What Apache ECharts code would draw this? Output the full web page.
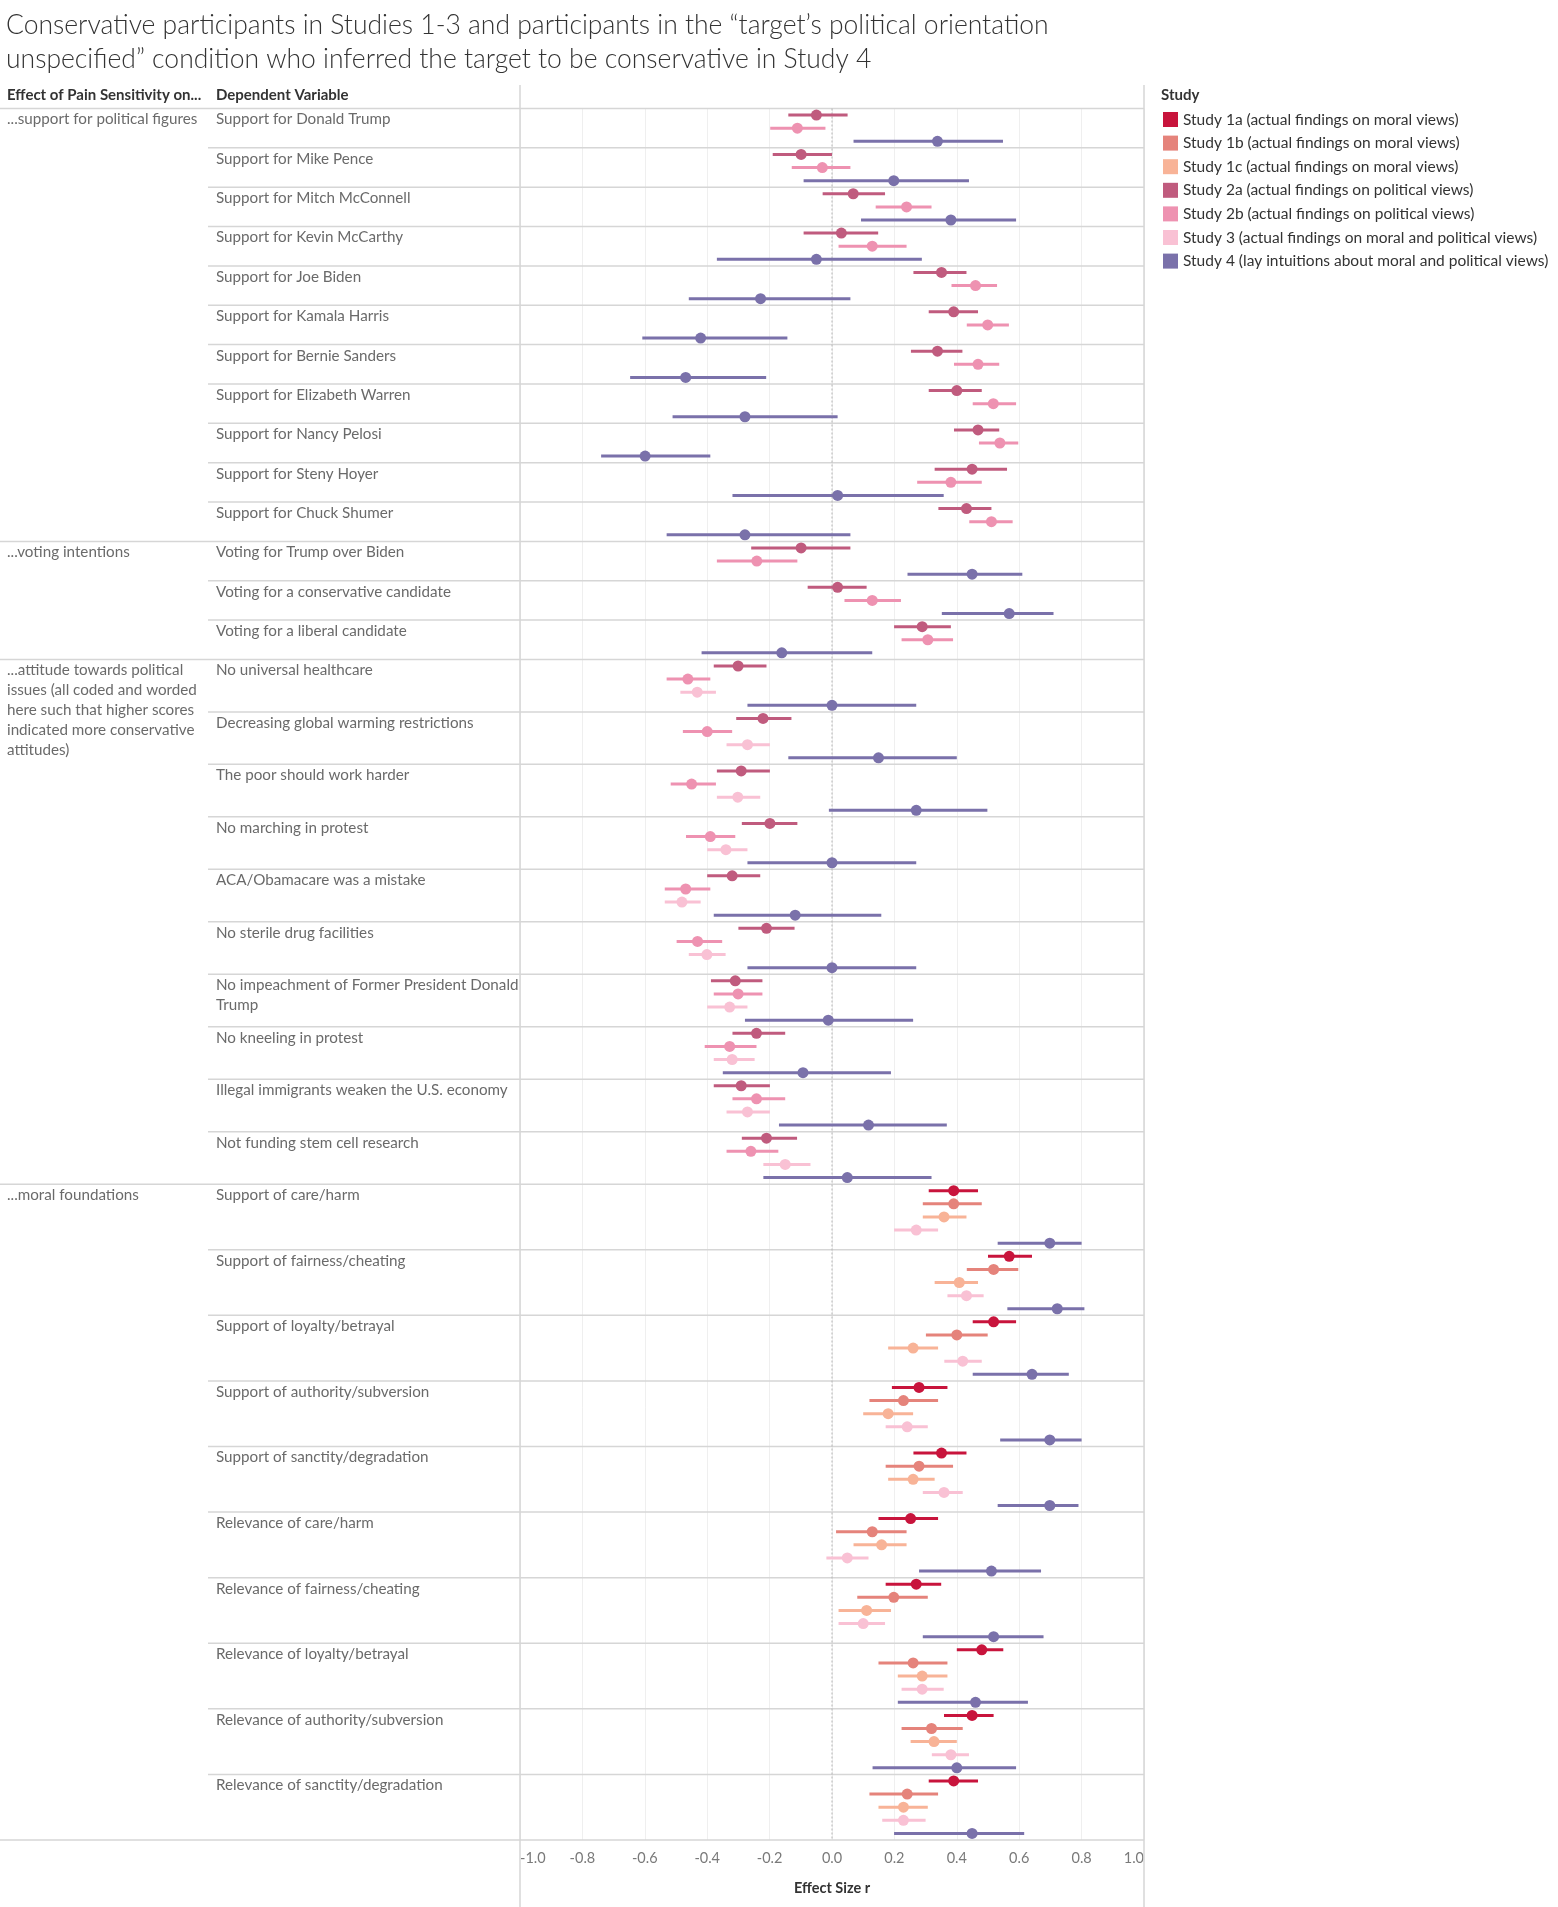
<!DOCTYPE html>
<html><head><meta charset="utf-8">
<script src="https://cdn.jsdelivr.net/npm/echarts@6/dist/echarts.min.js"></script>
<style>html,body{margin:0;padding:0;background:#fff}#c{width:1558px;height:1907px}</style>
</head><body><div id="c"></div>
<script>
const titleLines = ['Conservative participants in Studies 1-3 and participants in the \u201ctarget\u2019s political orientation', 'unspecified\u201d condition who inferred the target to be conservative in Study 4'];
const headerLabels = ['Effect of Pain Sensitivity on...', 'Dependent Variable'];
const axisTitle = 'Effect Size r';
const legendTitle = 'Study';
const studyKeys = ['1a','1b','1c','2a','2b','3','4'];
const studyNames = [
  'Study 1a (actual findings on moral views)',
  'Study 1b (actual findings on moral views)',
  'Study 1c (actual findings on moral views)',
  'Study 2a (actual findings on political views)',
  'Study 2b (actual findings on political views)',
  'Study 3 (actual findings on moral and political views)',
  'Study 4 (lay intuitions about moral and political views)'
];
const groupLabels = [
  '...support for political figures',
  '...voting intentions',
  '...attitude towards political\nissues (all coded and worded\nhere such that higher scores\nindicated more conservative\nattitudes)',
  '...moral foundations'
];
const groupStudies = [['2a','2b','4'],['2a','2b','4'],['2a','2b','3','4'],['1a','1b','1c','3','4']];
const rowLabels = [
  'Support for Donald Trump','Support for Mike Pence','Support for Mitch McConnell','Support for Kevin McCarthy',
  'Support for Joe Biden','Support for Kamala Harris','Support for Bernie Sanders','Support for Elizabeth Warren',
  'Support for Nancy Pelosi','Support for Steny Hoyer','Support for Chuck Shumer',
  'Voting for Trump over Biden','Voting for a conservative candidate','Voting for a liberal candidate',
  'No universal healthcare','Decreasing global warming restrictions','The poor should work harder','No marching in protest',
  'ACA/Obamacare was a mistake','No sterile drug facilities','No impeachment of Former President Donald\nTrump',
  'No kneeling in protest','Illegal immigrants weaken the U.S. economy','Not funding stem cell research',
  'Support of care/harm','Support of fairness/cheating','Support of loyalty/betrayal','Support of authority/subversion',
  'Support of sanctity/degradation','Relevance of care/harm','Relevance of fairness/cheating','Relevance of loyalty/betrayal',
  'Relevance of authority/subversion','Relevance of sanctity/degradation'
];
const rowGroup = [0,0,0,0,0,0,0,0,0,0,0, 1,1,1, 2,2,2,2,2,2,2,2,2,2, 3,3,3,3,3,3,3,3,3,3];

// [estimate, lower, upper] in row order, only for rows where the study appears
const s1a = [[0.39,0.31,0.468],[0.568,0.50,0.641],[0.518,0.451,0.59],[0.279,0.192,0.37],[0.351,0.261,0.431],
  [0.252,0.149,0.34],[0.27,0.172,0.35],[0.48,0.40,0.549],[0.449,0.359,0.518],[0.39,0.31,0.468]];
const s1b = [[0.39,0.291,0.48],[0.518,0.432,0.597],[0.40,0.301,0.499],[0.229,0.12,0.34],[0.279,0.172,0.388],
  [0.129,0.013,0.239],[0.198,0.081,0.307],[0.26,0.149,0.37],[0.319,0.223,0.419],[0.241,0.12,0.34]];
const s1c = [[0.359,0.291,0.431],[0.408,0.329,0.468],[0.26,0.18,0.34],[0.18,0.10,0.26],[0.26,0.18,0.329],
  [0.159,0.069,0.239],[0.111,0.021,0.189],[0.289,0.211,0.37],[0.327,0.252,0.40],[0.229,0.149,0.307]];
const s2a = [[-0.05,-0.14,0.05],[-0.099,-0.19,0.0],[0.068,-0.03,0.17],[0.03,-0.091,0.148],[0.351,0.261,0.431],
  [0.39,0.31,0.468],[0.338,0.253,0.418],[0.40,0.31,0.48],[0.468,0.391,0.536],[0.449,0.329,0.561],[0.431,0.341,0.511],
  [-0.099,-0.259,0.059],[0.018,-0.078,0.111],[0.289,0.199,0.381],
  [-0.301,-0.379,-0.21],[-0.221,-0.307,-0.13],[-0.291,-0.369,-0.199],[-0.199,-0.289,-0.111],[-0.32,-0.40,-0.23],
  [-0.21,-0.30,-0.12],[-0.31,-0.388,-0.223],[-0.242,-0.319,-0.15],[-0.291,-0.379,-0.199],[-0.21,-0.289,-0.112]];
const s2b = [[-0.111,-0.198,-0.021],[-0.031,-0.129,0.059],[0.239,0.14,0.319],[0.129,0.021,0.239],[0.46,0.383,0.529],
  [0.499,0.432,0.567],[0.468,0.391,0.536],[0.517,0.451,0.59],[0.538,0.471,0.597],[0.381,0.273,0.48],[0.511,0.44,0.579],
  [-0.241,-0.369,-0.111],[0.129,0.04,0.221],[0.307,0.223,0.388],
  [-0.462,-0.53,-0.39],[-0.40,-0.478,-0.32],[-0.45,-0.517,-0.372],[-0.39,-0.468,-0.31],[-0.469,-0.536,-0.39],
  [-0.431,-0.498,-0.352],[-0.301,-0.379,-0.223],[-0.328,-0.408,-0.242],[-0.242,-0.319,-0.15],[-0.26,-0.338,-0.172]];
const s3 = [[-0.432,-0.486,-0.372],[-0.271,-0.338,-0.199],[-0.302,-0.369,-0.23],[-0.34,-0.40,-0.271],[-0.481,-0.536,-0.421],
  [-0.401,-0.459,-0.341],[-0.328,-0.40,-0.271],[-0.32,-0.379,-0.248],[-0.271,-0.338,-0.199],[-0.15,-0.22,-0.069],
  [0.27,0.199,0.34],[0.431,0.37,0.486],[0.419,0.36,0.48],[0.241,0.172,0.307],[0.359,0.291,0.419],
  [0.049,-0.018,0.117],[0.10,0.021,0.17],[0.289,0.223,0.358],[0.381,0.32,0.439],[0.229,0.161,0.30]];
const s4 = [[0.338,0.069,0.548],[0.198,-0.091,0.439],[0.381,0.093,0.59],[-0.05,-0.369,0.288],[-0.229,-0.459,0.059],
  [-0.421,-0.608,-0.143],[-0.469,-0.647,-0.211],[-0.279,-0.511,0.018],[-0.599,-0.74,-0.39],[0.018,-0.319,0.358],[-0.279,-0.53,0.059],
  [0.449,0.242,0.61],[0.568,0.352,0.71],[-0.161,-0.418,0.129],
  [0.0,-0.271,0.27],[0.149,-0.14,0.40],[0.27,-0.01,0.498],[0.0,-0.271,0.27],[-0.118,-0.379,0.158],
  [0.0,-0.271,0.27],[-0.012,-0.279,0.26],[-0.093,-0.35,0.189],[0.117,-0.17,0.368],[0.049,-0.22,0.319],
  [0.698,0.531,0.80],[0.722,0.562,0.809],[0.641,0.451,0.759],[0.698,0.539,0.80],[0.698,0.531,0.79],
  [0.511,0.279,0.67],[0.518,0.291,0.678],[0.46,0.211,0.628],[0.40,0.13,0.59],[0.449,0.199,0.616]];
const xTicks = [-1.0,-0.8,-0.6,-0.4,-0.2,0.0,0.2,0.4,0.6,0.8,1.0];

const studyVals = {'1a':s1a,'1b':s1b,'1c':s1c,'2a':s2a,'2b':s2b,'3':s3,'4':s4};
const studyColors = {'1a':'#c8143c','1b':'#e5837b','1c':'#f8b397','2a':'#c05b7e','2b':'#ee92b1','3':'#f9c1d4','4':'#7a71aa'};

// build slot-based positions
const ptr = {}; const seriesData = {};
studyKeys.forEach(k => { ptr[k] = 0; seriesData[k] = []; });
const rowData = [];
let slot = 0;
rowLabels.forEach((lab, r) => {
  const g = rowGroup[r];
  const first = r === 0 || rowGroup[r-1] !== g;
  rowData.push([0, slot, r, first ? 1 : 0]);
  groupStudies[g].forEach((k, i) => {
    const v = studyVals[k][ptr[k]++];
    seriesData[k].push([v[0], v[1], v[2], slot + i + 0.5]);
  });
  slot += groupStudies[g].length;
});
const totalSlots = slot;
rowData.push([0, totalSlots, -1, 1]);

const FONT = 'Lato, "Noto Sans", sans-serif';
const chart = echarts.init(document.getElementById('c'), null, {renderer: 'canvas'});

const studySeries = studyKeys.map((k, si) => ({
  name: studyNames[si],
  type: 'custom',
  itemStyle: {color: studyColors[k]},
  encode: {x: [0, 1, 2], y: 3},
  data: seriesData[k],
  z: 5,
  renderItem: (params, api) => {
    const y = api.value(3);
    const lo = api.coord([api.value(1), y]);
    const hi = api.coord([api.value(2), y]);
    const c = api.coord([api.value(0), y]);
    const col = studyColors[k];
    return {type: 'group', children: [
      {type: 'line', shape: {x1: lo[0], y1: lo[1], x2: hi[0], y2: hi[1]}, style: {stroke: col, lineWidth: 3}},
      {type: 'circle', shape: {cx: c[0], cy: c[1], r: 5.5}, style: {fill: col}}
    ]};
  }
}));

const frameSeries = {
  type: 'custom',
  silent: true,
  encode: {x: 0, y: 1},
  data: rowData,
  z: 2,
  renderItem: (params, api) => {
    const ySlot = api.value(1);
    const r = api.value(2);
    const first = api.value(3) === 1;
    const p = api.coord([1, ySlot]);
    const pl = api.coord([-1, ySlot]);
    const yPx = p[1];
    const children = [
      {type: 'line', shape: {x1: first ? 0 : 208, y1: yPx, x2: p[0], y2: yPx}, style: {stroke: '#d6d6d6', lineWidth: 1.5}}
    ];
    if (r >= 0) {
      children.push({type: 'text', x: 216, y: yPx + 1, style: {text: rowLabels[r], fill: '#6a6a6a', fontSize: 15.2, fontFamily: FONT, lineHeight: 20, verticalAlign: 'top', align: 'left'}});
      if (first) {
        children.push({type: 'text', x: 7, y: yPx + 1, style: {text: groupLabels[rowGroup[r]], fill: '#6a6a6a', fontSize: 15.2, fontFamily: FONT, lineHeight: 20, verticalAlign: 'top', align: 'left'}});
      }
    } else {
      const z0 = api.coord([0, 0]);
      const z1 = api.coord([0, totalSlots]);
      children.push({type: 'line', shape: {x1: z0[0], y1: z0[1], x2: z1[0], y2: z1[1]}, style: {stroke: '#b5b5b5', lineWidth: 1, lineDash: [2, 2]}});
      children.push({type: 'line', shape: {x1: pl[0], y1: 85, x2: pl[0], y2: 1907}, style: {stroke: '#d6d6d6', lineWidth: 1.5}});
      children.push({type: 'line', shape: {x1: p[0], y1: 85, x2: p[0], y2: 1907}, style: {stroke: '#d6d6d6', lineWidth: 1.5}});
    }
    return {type: 'group', children};
  }
};

const option = {
  animation: false,
  backgroundColor: '#fff',
  color: studyKeys.map(k => studyColors[k]),
  textStyle: {fontFamily: FONT},
  grid: {left: 520, right: 414, top: 108.5, bottom: 67, containLabel: false},
  xAxis: {
    type: 'value', min: xTicks[0], max: xTicks[xTicks.length - 1], interval: 0.2,
    axisLine: {show: false}, axisTick: {show: false},
    splitLine: {show: true, lineStyle: {color: '#efefef', width: 1}},
    axisLabel: {
      fontSize: 14.5, color: '#7a7a7a', margin: 11, fontFamily: FONT,
      alignMinLabel: 'left', alignMaxLabel: 'right',
      formatter: v => (Math.round(v * 10) / 10).toFixed(1)
    },
    name: axisTitle, nameLocation: 'middle', nameGap: 48,
    nameTextStyle: {fontSize: 14.5, fontWeight: 'bold', color: '#333', fontFamily: FONT, verticalAlign: 'middle'}
  },
  yAxis: {type: 'value', min: 0, max: totalSlots, inverse: true, show: false, splitLine: {show: false}},
  legend: {
    orient: 'vertical', left: 1163, top: 111.5, padding: 0, itemWidth: 15, itemHeight: 15, itemGap: 7.6,
    icon: 'rect', selectedMode: false, data: studyNames,
    textStyle: {fontSize: 15.5, color: '#333', fontFamily: FONT, lineHeight: 15}
  },
  graphic: [
    {type: 'text', left: 6, top: 8.5, style: {text: titleLines.join('\n'), fontSize: 26.5, lineHeight: 34, fill: '#333', fontFamily: FONT, fontWeight: 300}},
    {type: 'text', left: 7, top: 88, style: {text: headerLabels[0], fontSize: 15, fontWeight: 'bold', fill: '#333', fontFamily: FONT}},
    {type: 'text', left: 216, top: 88, style: {text: headerLabels[1], fontSize: 15, fontWeight: 'bold', fill: '#333', fontFamily: FONT}},
    {type: 'text', left: 1161, top: 88, style: {text: legendTitle, fontSize: 15, fontWeight: 'bold', fill: '#333', fontFamily: FONT}}
  ],
  series: [frameSeries].concat(studySeries)
};
chart.setOption(option);
</script>
</body></html>
